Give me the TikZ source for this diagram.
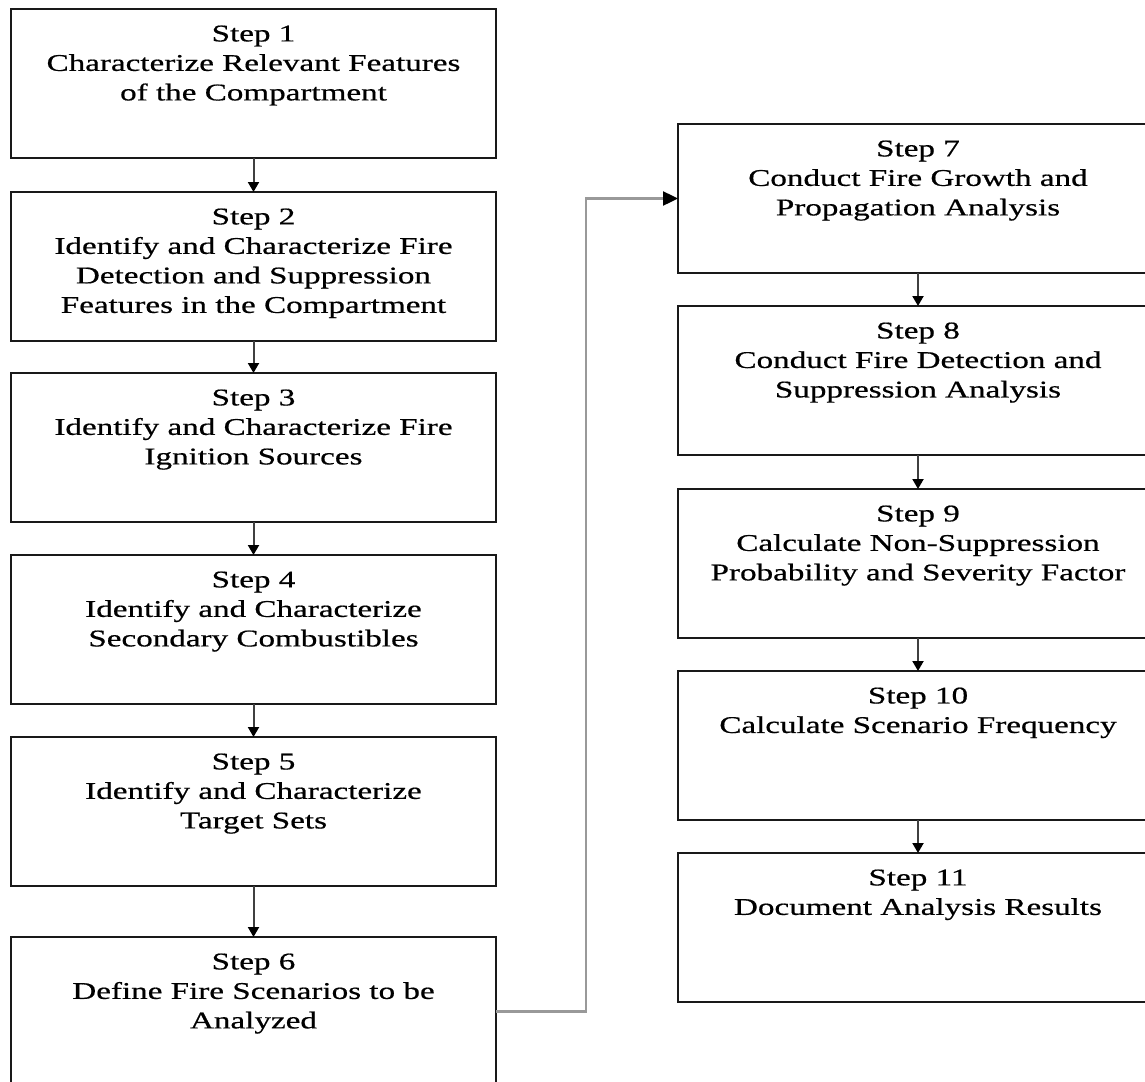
\documentclass[tikz,border=0pt]{standalone}
\usepackage{fontspec}
\setmainfont{Liberation Serif}[FakeStretch=1.38,FakeBold=0.6]
\usetikzlibrary{arrows.meta}
\newcommand{\stepbody}[2]{\begin{minipage}[t][149pt][t]{#1}\centering\fontsize{24}{29.5}\selectfont\vspace*{16.5pt}#2\end{minipage}}
\tikzset{
  stepbox/.style={draw=black!90, line width=2pt, rectangle, inner sep=0pt, outer sep=0pt, fill=white},
  leftbox/.style={stepbox, minimum width=485pt, minimum height=149pt},
  rightbox/.style={stepbox, minimum width=480pt, minimum height=149pt},
  shortarrow/.style={draw=black!75, line width=2pt, -{Triangle[length=10pt,width=11pt,color=black]}},
  longarrow/.style={draw=black!40, line width=2.4pt, -{Triangle[length=15pt,width=14pt,color=black]}}
}
\begin{document}
\begin{tikzpicture}[x=1pt, y=-1pt]
\path[use as bounding box, clip] (0,0) rectangle (1145,1081);
\fill[white] (0,0) rectangle (1145,1081);
% left column
\node[leftbox] (b1) at (253.5,83.5) {\stepbody{475pt}{Step 1\\Characterize Relevant Features\\of the Compartment}};
\node[leftbox] (b2) at (253.5,266.5) {\stepbody{475pt}{Step 2\\Identify and Characterize Fire\\Detection and Suppression\\Features in the Compartment}};
\node[leftbox] (b3) at (253.5,447.5) {\stepbody{475pt}{Step 3\\Identify and Characterize Fire\\Ignition Sources}};
\node[leftbox] (b4) at (253.5,629.5) {\stepbody{475pt}{Step 4\\Identify and Characterize\\Secondary Combustibles}};
\node[leftbox] (b5) at (253.5,811.5) {\stepbody{475pt}{Step 5\\Identify and Characterize\\Target Sets}};
\node[leftbox] (b6) at (253.5,1011.5) {\stepbody{475pt}{Step 6\\Define Fire Scenarios to be\\Analyzed}};
% right column
\node[rightbox] (b7) at (918,198.5) {\stepbody{470pt}{Step 7\\Conduct Fire Growth and\\Propagation Analysis}};
\node[rightbox] (b8) at (918,380.5) {\stepbody{470pt}{Step 8\\Conduct Fire Detection and\\Suppression Analysis}};
\node[rightbox] (b9) at (918,563.5) {\stepbody{470pt}{Step 9\\Calculate Non-Suppression\\Probability and Severity Factor}};
\node[rightbox] (b10) at (918,745.5) {\stepbody{470pt}{Step 10\\Calculate Scenario Frequency}};
\node[rightbox] (b11) at (918,927.5) {\stepbody{470pt}{Step 11\\Document Analysis Results}};
% connectors
\draw[shortarrow] (b1.south) -- (b2.north);
\draw[shortarrow] (b2.south) -- (b3.north);
\draw[shortarrow] (b3.south) -- (b4.north);
\draw[shortarrow] (b4.south) -- (b5.north);
\draw[shortarrow] (b5.south) -- (b6.north);
\draw[shortarrow] (b7.south) -- (b8.north);
\draw[shortarrow] (b8.south) -- (b9.north);
\draw[shortarrow] (b9.south) -- (b10.north);
\draw[shortarrow] (b10.south) -- (b11.north);
\coordinate (turn) at (586,600);
\draw[longarrow] (b6.east) -- (b6.east -| turn) -- (turn |- b7.west) -- (b7.west);
\end{tikzpicture}
\end{document}
